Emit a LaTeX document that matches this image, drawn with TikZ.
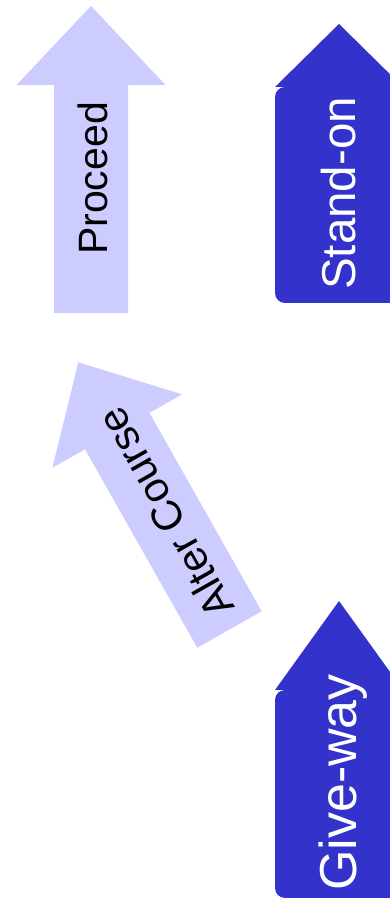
\documentclass[tikz,border=0pt]{standalone}
\usepackage{fontspec}
\setmainfont{Liberation Sans}
\usepackage{xcolor}
\definecolor{lav}{RGB}{204,204,255}
\definecolor{boat}{RGB}{51,51,204}

\begin{document}
\begin{tikzpicture}[x=1pt,y=1pt,
		lbl/.style={inner sep=0pt, anchor=base, rotate=90}]

				\clip (0,0) rectangle (390,901);

				\fill [lav] (54,588) -- (54,816) -- (16.5,816) -- (91,895) -- (165.5,816) -- (128,816) -- (128,588) -- cycle;
				\node [lbl, font=\fontsize{41}{41}\selectfont] (proceed) at (107,722.5){Proceed};

				\begin{scope}[shift={(229.5,271.5)}, rotate=29.5]
					\fill [lav] (-37,0) -- (-37,228) -- (-74.5,228) -- (0,307) -- (74.5,228) -- (37,228) -- (37,0) -- cycle;
					\node [lbl, rotate=29.5, font=\fontsize{42}{42}\selectfont] (alter) at (16,133){Alter Course};
				\end{scope}

				\fill [boat] (275,814) -- (339,877) -- (403,814) -- cycle;
				\fill [boat, rounded corners=10pt] (275,598) rectangle (403,814);
				\node [lbl, white, font=\fontsize{47.5}{47.5}\selectfont] (standon) at (355,707.5){Stand-on};

				\fill [boat] (275,211) -- (339,300) -- (403,211) -- cycle;
				\fill [boat, rounded corners=10pt] (275,3) rectangle (403,211);
				\node [lbl, white, font=\fontsize{52}{52}\selectfont] (giveway) at (356,118.5){Give-way};

			\end{tikzpicture}
\end{document}
